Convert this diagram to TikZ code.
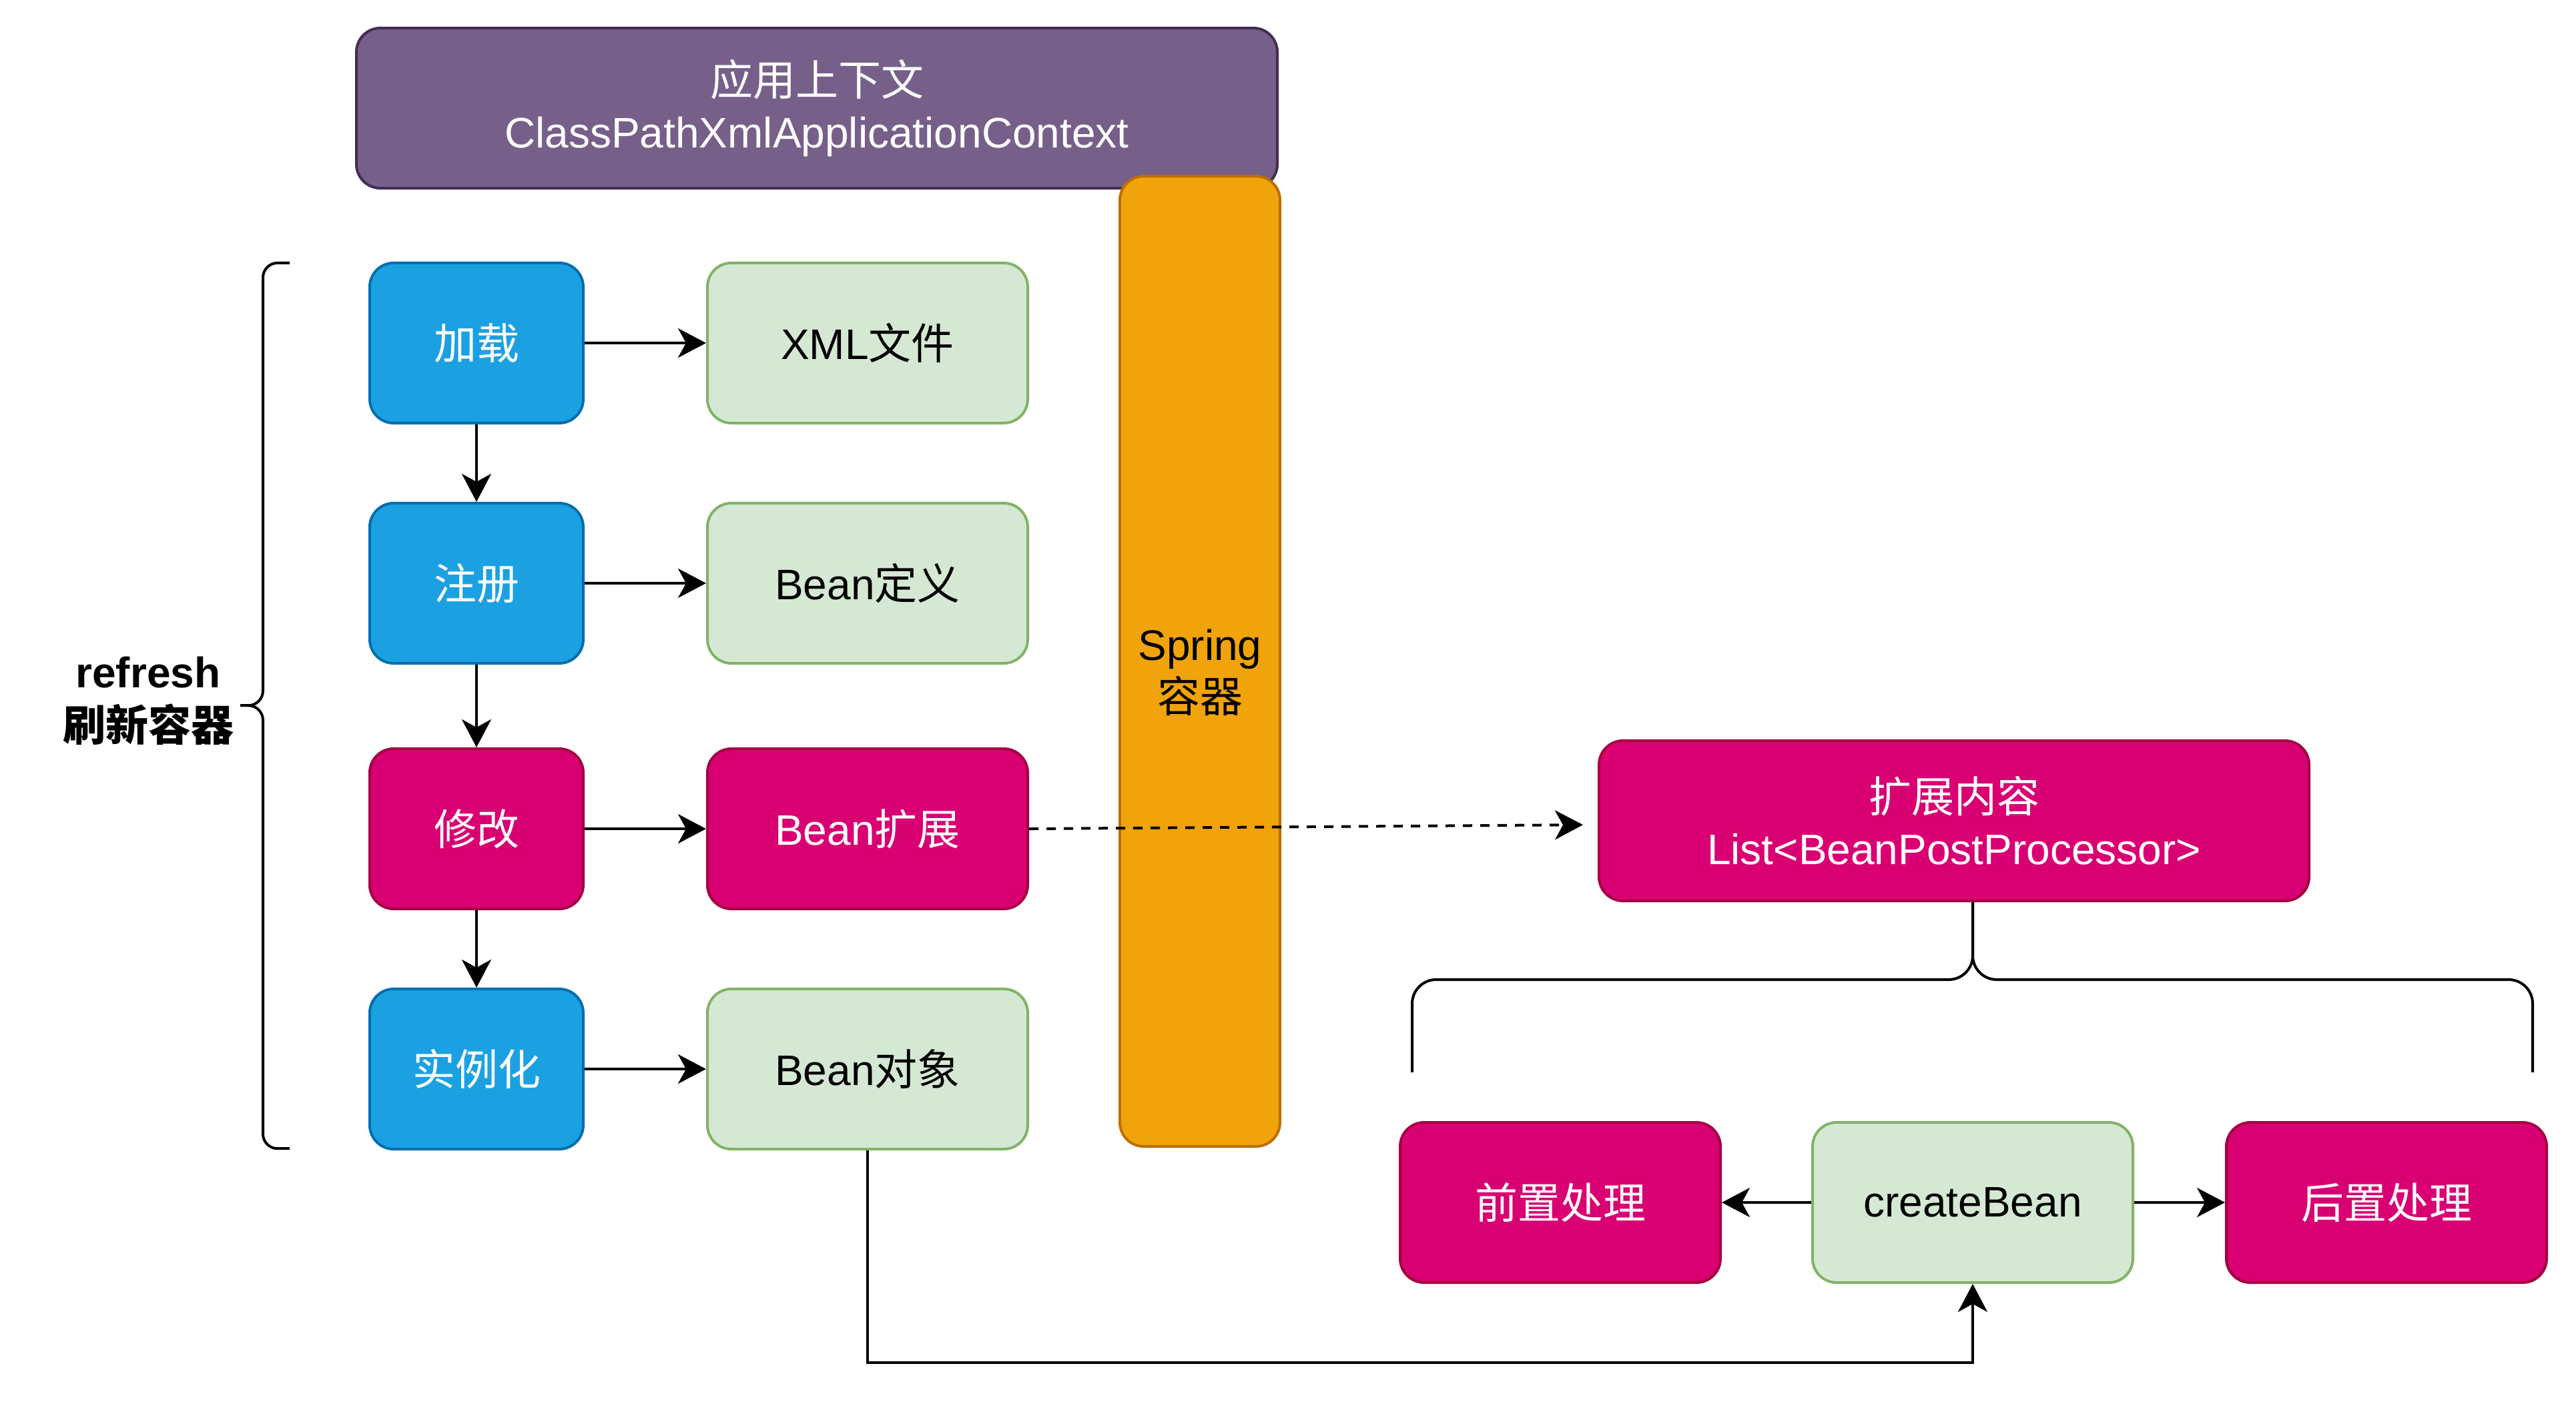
\documentclass[tikz,border=0pt]{standalone}
\usepackage{fontspec}
\setmainfont{Liberation Sans}
\newfontfamily\cjk{Noto Sans CJK SC}
\usetikzlibrary{arrows.meta}
\definecolor{blueF}{HTML}{1BA1E2}
\definecolor{blueD}{HTML}{006EAF}
\definecolor{greenF}{HTML}{D5E8D4}
\definecolor{greenD}{HTML}{82B366}
\definecolor{magF}{HTML}{D80073}
\definecolor{magD}{HTML}{A50040}
\definecolor{purF}{HTML}{76608A}
\definecolor{purD}{HTML}{432D57}
\definecolor{oraF}{HTML}{F0A30A}
\definecolor{oraD}{HTML}{BD7000}
\begin{document}
\begin{tikzpicture}[x=1pt,y=-1pt,
  box/.style={rounded corners=9pt, line width=1pt, inner sep=0pt, align=center,
    font=\fontsize{16}{19.5}\selectfont, minimum height=60pt},
  bluebox/.style={box, fill=blueF, draw=blueD, text=white, minimum width=80pt},
  greenbox/.style={box, fill=greenF, draw=greenD, text=black, minimum width=120pt},
  magbox/.style={box, fill=magF, draw=magD, text=white, minimum width=120pt},
  purbox/.style={box, fill=purF, draw=purD, text=white},
  orabox/.style={box, fill=oraF, draw=oraD, text=black},
  arr/.style={line width=1pt, -{Stealth[length=10.5pt,width=11pt,inset=3pt]}},
  dasharr/.style={arr, dash pattern=on 3.5pt off 3pt},
  bracket/.style={line width=1pt},
  lbl/.style={align=center, inner sep=0pt, font=\fontsize{16}{20}\selectfont\bfseries},
  txt/.style={align=center, inner sep=0pt, font=\fontsize{16}{19.5}\selectfont}
]
\useasboundingbox (0,0) rectangle (965,531);

% top context and spring container
\node[purbox, minimum width=345pt] (ctx) at (306,40.5) {{\cjk 应用上下文}\\ClassPathXmlApplicationContext};
\node[orabox, minimum width=60pt, minimum height=363.5pt] (spring) at (449.5,247.75) {};
\node[txt, text=black] (springtxt) at (449.5,252) {Spring\\{\cjk 容器}};

% left column
\node[bluebox] (load) at (178.5,128.5) {\cjk 加载};
\node[bluebox] (reg)  at (178.5,218.5) {\cjk 注册};
\node[box, fill=magF, draw=magD, text=white, minimum width=80pt] (mod) at (178.5,310.5) {\cjk 修改};
\node[bluebox] (inst) at (178.5,400.5) {\cjk 实例化};

% second column
\node[greenbox] (xml) at (325,128.5) {XML{\cjk 文件}};
\node[greenbox] (def) at (325,218.5) {Bean{\cjk 定义}};
\node[magbox]   (ext) at (325,310.5) {Bean{\cjk 扩展}};
\node[greenbox] (obj) at (325,400.5) {Bean{\cjk 对象}};

% right group
\node[magbox, minimum width=266pt] (bpp) at (732,307.5) {{\cjk 扩展内容}\\List<BeanPostProcessor>};
\node[magbox] (pre)  at (584.5,450.5) {\cjk 前置处理};
\node[greenbox] (cb) at (739,450.5) {createBean};
\node[magbox] (post) at (894,450.5) {\cjk 后置处理};

% refresh label
\node[lbl] (refresh) at (55.5,262.5) {refresh\\{\cjk 刷新容器}};

% left brace
\draw[bracket, rounded corners=5.5pt] (108.5,98.5) -- (98.5,98.5) -- (98.5,264.3) -- (90,264.3);
\draw[bracket, rounded corners=5.5pt] (108.5,430.3) -- (98.5,430.3) -- (98.5,264.3) -- (90,264.3);

% right brace
\coordinate (tip) at (cb.north |- bpp.south);
\draw[bracket, rounded corners=9pt] (529,401.7) -- (529,367) -- (739,367) -- (tip);
\draw[bracket, rounded corners=9pt] (948.75,401.7) -- (948.75,367) -- (739,367) -- (tip);

% connectors
\draw[arr] (load) -- (xml);
\draw[arr] (reg) -- (def);
\draw[arr] (mod) -- (ext);
\draw[arr] (inst) -- (obj);
\draw[arr] (load) -- (reg);
\draw[arr] (reg) -- (mod);
\draw[arr] (mod) -- (inst);

\coordinate (dashend) at (593,309);
\draw[dasharr] (ext.east) -- (dashend);

\draw[arr] (cb) -- (pre);
\draw[arr] (cb) -- (post);

\coordinate (low) at (325,510.5);
\draw[arr] (obj.south) -- (low) -| (cb.south);
\end{tikzpicture}
\end{document}
